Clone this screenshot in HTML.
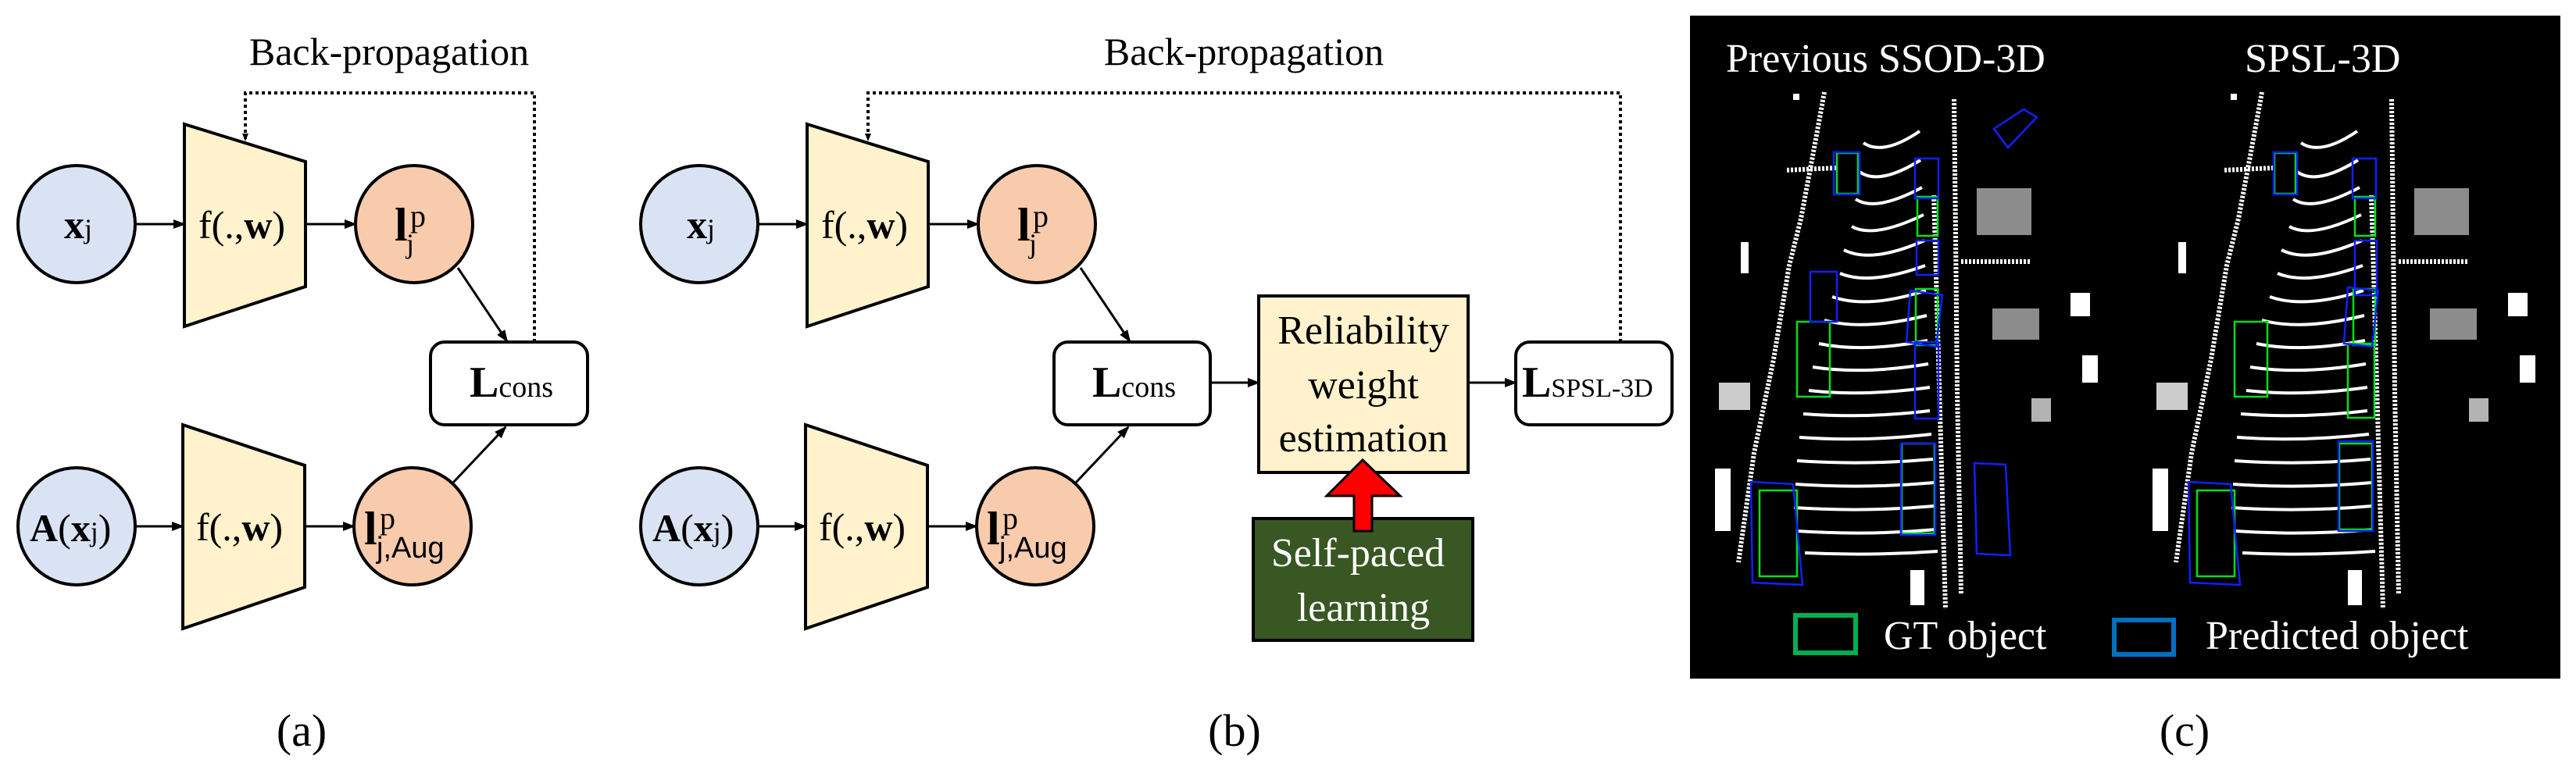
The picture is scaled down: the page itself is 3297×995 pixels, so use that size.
<!DOCTYPE html>
<html><head><meta charset="utf-8"><style>
html,body{margin:0;padding:0;background:#fff;}
svg{display:block;}
svg text{font-family:"Liberation Serif","DejaVu Serif",serif !important;}
</style></head><body>
<svg width="3297" height="995" viewBox="0 0 3297 995" xmlns="http://www.w3.org/2000/svg" font-family="Liberation Serif, DejaVu Serif, serif">
<defs>
<marker id="ah" markerWidth="10" markerHeight="10" refX="9" refY="5" orient="auto" markerUnits="userSpaceOnUse"><path d="M0,1 L10,5 L0,9 Z" fill="#000"/></marker>
<marker id="ah2" markerWidth="16" markerHeight="14" refX="14" refY="7" orient="auto" markerUnits="userSpaceOnUse"><path d="M0,1 L16,7 L0,13 Z" fill="#000"/></marker>
</defs>

<!-- Panel (a) -->
<text x="498" y="83" font-size="50" text-anchor="middle" font-family="Liberation Serif, serif">Back-propagation</text>
<polyline points="684,438 684,119 314,119 314,180" fill="none" stroke="#000" stroke-width="4" stroke-dasharray="4,4" marker-end="url(#ah)"/>

<g stroke="#000" stroke-width="4">
<circle cx="98" cy="287" r="75" fill="#dae3f3"/>
<polygon points="236,159 391,207 391,367 236,418" fill="#fff2cc"/>
<circle cx="530" cy="287" r="75" fill="#f8cbad"/>
<circle cx="98" cy="674" r="75" fill="#dae3f3"/>
<polygon points="234,544 390,596 390,752 234,805" fill="#fff2cc"/>
<circle cx="528" cy="674" r="75" fill="#f8cbad"/>
<rect x="551" y="438" width="201" height="106" rx="18" fill="#fff"/>
</g>
<g stroke="#000" stroke-width="3" fill="none">
<line x1="173" y1="287" x2="236" y2="287" marker-end="url(#ah2)"/>
<line x1="391" y1="287" x2="455" y2="287" marker-end="url(#ah2)"/>
<line x1="173" y1="674" x2="234" y2="674" marker-end="url(#ah2)"/>
<line x1="390" y1="674" x2="453" y2="674" marker-end="url(#ah2)"/>
<line x1="586" y1="343" x2="649" y2="437" marker-end="url(#ah2)"/>
<line x1="579" y1="619" x2="647" y2="547" marker-end="url(#ah2)"/>
</g>
<text x="82" y="305" font-size="52" font-family="Liberation Serif, serif"><tspan font-weight="bold">x</tspan><tspan font-size="36">j</tspan></text>
<text x="254" y="305" font-size="50" font-family="Liberation Serif, serif">f(.,<tspan font-weight="bold">w</tspan>)</text>
<text x="505" y="308" font-size="60" font-weight="bold" font-family="Liberation Serif, serif">l</text>
<text x="525" y="290" font-size="40" font-family="Liberation Serif, serif">p</text>
<text x="520" y="324" font-size="36" font-family="Liberation Serif, serif">j</text>
<text x="38" y="693" font-size="50" font-family="Liberation Serif, serif"><tspan font-weight="bold">A</tspan>(<tspan font-weight="bold">x</tspan><tspan font-size="36">j</tspan>)</text>
<text x="251" y="692" font-size="50" font-family="Liberation Serif, serif">f(.,<tspan font-weight="bold">w</tspan>)</text>
<text x="466" y="697" font-size="60" font-weight="bold" font-family="Liberation Serif, serif">l</text>
<text x="486" y="677" font-size="40" font-family="Liberation Serif, serif">p</text>
<text x="482" y="714" font-size="38" font-family="Liberation Sans, sans-serif" style="font-family:'Liberation Sans',sans-serif !important">j,Aug</text>
<text x="601" y="508" font-size="56" font-weight="bold" font-family="Liberation Serif, serif">L<tspan font-size="38" font-weight="normal">cons</tspan></text>
<text x="386" y="955" font-size="58" text-anchor="middle" font-family="Liberation Serif, serif">(a)</text>

<!-- Panel (b) -->
<text x="1592" y="83" font-size="50" text-anchor="middle" font-family="Liberation Serif, serif">Back-propagation</text>
<polyline points="2074,438 2074,119 1111,119 1111,180" fill="none" stroke="#000" stroke-width="4" stroke-dasharray="4,4" marker-end="url(#ah)"/>
<g stroke="#000" stroke-width="4">
<circle cx="895" cy="287" r="75" fill="#dae3f3"/>
<polygon points="1033,159 1188,207 1188,367 1033,418" fill="#fff2cc"/>
<circle cx="1327" cy="287" r="75" fill="#f8cbad"/>
<circle cx="895" cy="674" r="75" fill="#dae3f3"/>
<polygon points="1031,544 1187,596 1187,752 1031,805" fill="#fff2cc"/>
<circle cx="1325" cy="674" r="75" fill="#f8cbad"/>
<rect x="1349" y="438" width="200" height="106" rx="18" fill="#fff"/>
<rect x="1940" y="438" width="200" height="106" rx="18" fill="#fff"/>
<rect x="1611" y="379" width="268" height="226" fill="#fff2cc"/>
<rect x="1604" y="664" width="281" height="156" fill="#385723"/>
</g>
<g stroke="#000" stroke-width="3" fill="none">
<line x1="970" y1="287" x2="1033" y2="287" marker-end="url(#ah2)"/>
<line x1="1188" y1="287" x2="1252" y2="287" marker-end="url(#ah2)"/>
<line x1="970" y1="674" x2="1031" y2="674" marker-end="url(#ah2)"/>
<line x1="1187" y1="674" x2="1250" y2="674" marker-end="url(#ah2)"/>
<line x1="1383" y1="343" x2="1446" y2="437" marker-end="url(#ah2)"/>
<line x1="1376" y1="619" x2="1444" y2="547" marker-end="url(#ah2)"/>
<line x1="1549" y1="490" x2="1611" y2="490" marker-end="url(#ah2)"/>
<line x1="1879" y1="490" x2="1940" y2="490" marker-end="url(#ah2)"/>
</g>
<polygon points="1744,589 1792,635 1756,635 1756,680 1733,680 1733,635 1698,635" fill="#ff0000" stroke="#000" stroke-width="3"/>
<text x="879" y="305" font-size="52" font-family="Liberation Serif, serif"><tspan font-weight="bold">x</tspan><tspan font-size="36">j</tspan></text>
<text x="1051" y="305" font-size="50" font-family="Liberation Serif, serif">f(.,<tspan font-weight="bold">w</tspan>)</text>
<text x="1302" y="308" font-size="60" font-weight="bold" font-family="Liberation Serif, serif">l</text>
<text x="1322" y="290" font-size="40" font-family="Liberation Serif, serif">p</text>
<text x="1317" y="324" font-size="36" font-family="Liberation Serif, serif">j</text>
<text x="835" y="693" font-size="50" font-family="Liberation Serif, serif"><tspan font-weight="bold">A</tspan>(<tspan font-weight="bold">x</tspan><tspan font-size="36">j</tspan>)</text>
<text x="1048" y="692" font-size="50" font-family="Liberation Serif, serif">f(.,<tspan font-weight="bold">w</tspan>)</text>
<text x="1263" y="697" font-size="60" font-weight="bold" font-family="Liberation Serif, serif">l</text>
<text x="1283" y="677" font-size="40" font-family="Liberation Serif, serif">p</text>
<text x="1279" y="714" font-size="38" font-family="Liberation Sans, sans-serif" style="font-family:'Liberation Sans',sans-serif !important">j,Aug</text>
<text x="1398" y="508" font-size="56" font-weight="bold" font-family="Liberation Serif, serif">L<tspan font-size="38" font-weight="normal">cons</tspan></text>
<text x="1948" y="508" font-size="56" font-weight="bold" font-family="Liberation Serif, serif">L<tspan font-size="34" font-weight="normal">SPSL-3D</tspan></text>
<text x="1745" y="440" font-size="52" text-anchor="middle" font-family="Liberation Serif, serif">Reliability</text>
<text x="1745" y="510" font-size="52" text-anchor="middle" font-family="Liberation Serif, serif">weight</text>
<text x="1745" y="578" font-size="52" text-anchor="middle" font-family="Liberation Serif, serif">estimation</text>
<text x="1738" y="725" font-size="52" text-anchor="middle" fill="#fff" font-family="Liberation Serif, serif">Self-paced</text>
<text x="1745" y="795" font-size="52" text-anchor="middle" fill="#fff" font-family="Liberation Serif, serif">learning</text>
<text x="1580" y="955" font-size="58" text-anchor="middle" font-family="Liberation Serif, serif">(b)</text>

<!-- Panel (c) -->
<rect x="2163" y="20" width="1114" height="849" fill="#000"/>
<g id="pc">
<g fill="none" stroke="#fff" stroke-width="4">
<path d="M2385 183 Q2410 200 2457 168"/><path d="M2380 220 Q2405 238 2458 205"/><path d="M2375 255 Q2400 272 2460 240"/>
<path d="M2370 290 Q2398 306 2462 275"/><path d="M2360 320 Q2395 338 2463 308"/><path d="M2355 350 Q2393 366 2464 340"/>
<path d="M2345 380 Q2390 396 2465 372"/><path d="M2335 410 Q2385 424 2466 404"/><path d="M2328 440 Q2385 452 2467 436"/>
<path d="M2320 470 Q2385 480 2468 466"/><path d="M2315 500 Q2385 508 2470 496"/><path d="M2308 530 Q2388 536 2470 526"/>
<path d="M2303 560 Q2386 566 2472 556"/><path d="M2300 590 Q2386 596 2474 588"/><path d="M2298 620 Q2386 626 2476 618"/>
<path d="M2296 650 Q2386 656 2476 648"/><path d="M2300 680 Q2389 686 2478 678"/><path d="M2310 708 Q2395 712 2480 706"/>
</g>
<g fill="none" stroke="#fff" stroke-width="6" stroke-dasharray="3,2">
<polyline points="2335,118 2320,200 2305,280 2290,340 2270,460 2245,580 2225,720"/>
<polyline points="2501,127 2503,300 2505,500 2510,760"/>
<polyline points="2475,250 2480,420 2485,600 2490,780"/>
<polyline points="2350,215 2285,218"/>
<polyline points="2510,335 2600,335"/>
</g>
<g fill="#fff">
<rect x="2530" y="241" width="70" height="60" opacity="0.55"/>
<rect x="2550" y="395" width="60" height="40" opacity="0.55"/>
<rect x="2200" y="490" width="40" height="35" opacity="0.8"/>
<rect x="2195" y="600" width="20" height="80"/>
<rect x="2650" y="375" width="25" height="30"/>
<rect x="2665" y="455" width="20" height="35"/>
<rect x="2600" y="510" width="25" height="30" opacity="0.7"/>
<rect x="2445" y="730" width="18" height="45"/>
<rect x="2228" y="310" width="10" height="40"/>
<rect x="2295" y="120" width="8" height="8"/>
</g>
</g>
<use href="#pc" transform="translate(560,0)"/>
<g fill="none" stroke-width="2.5">
<g stroke="#00e020">
<rect x="2351" y="196" width="27" height="52"/><rect x="2454" y="252" width="26" height="50"/>
<rect x="2452" y="370" width="28" height="72"/><rect x="2300" y="412" width="42" height="96"/>
<rect x="2434" y="568" width="42" height="115"/><rect x="2252" y="628" width="48" height="110"/>
<rect x="2911" y="196" width="27" height="52"/><rect x="3014" y="252" width="26" height="50"/>
<rect x="3012" y="370" width="28" height="72"/><rect x="2860" y="412" width="42" height="96"/>
<rect x="2994" y="568" width="42" height="110"/><rect x="2812" y="628" width="48" height="110"/>
<rect x="3005" y="440" width="34" height="95"/>
</g>
<g stroke="#1020ff">
<rect x="2347" y="195" width="33" height="54"/><rect x="2451" y="203" width="30" height="51"/>
<rect x="2453" y="308" width="28" height="44"/><polygon points="2445,372 2486,378 2478,444 2440,438"/>
<rect x="2451" y="438" width="30" height="98"/><rect x="2317" y="348" width="34" height="64"/>
<rect x="2433" y="568" width="44" height="117"/><polygon points="2241,617 2295,620 2307,749 2243,746"/>
<polygon points="2527,593 2567,595 2573,711 2530,709"/><polygon points="2552,165 2590,140 2607,150 2570,189"/>
<rect x="2910" y="195" width="30" height="54"/><rect x="3011" y="203" width="30" height="51"/>
<rect x="3014" y="308" width="28" height="70"/><polygon points="3005,368 3044,372 3036,444 3000,440"/>
<rect x="2993" y="565" width="44" height="115"/><polygon points="2801,617 2855,620 2867,749 2803,746"/>
</g>
</g>
<text x="2209" y="92" font-size="52" fill="#fff" font-family="Liberation Serif, serif">Previous SSOD-3D</text>
<text x="2873" y="92" font-size="52" fill="#fff" font-family="Liberation Serif, serif">SPSL-3D</text>
<rect x="2298" y="788" width="77" height="48" fill="none" stroke="#00b050" stroke-width="6"/>
<text x="2411" y="831" font-size="52" fill="#fff" font-family="Liberation Serif, serif">GT object</text>
<rect x="2706" y="794" width="76" height="44" fill="none" stroke="#0070c0" stroke-width="6"/>
<text x="2823" y="831" font-size="52" fill="#fff" font-family="Liberation Serif, serif">Predicted object</text>
<text x="2796" y="955" font-size="58" text-anchor="middle" font-family="Liberation Serif, serif">(c)</text>
</svg>
</body></html>
